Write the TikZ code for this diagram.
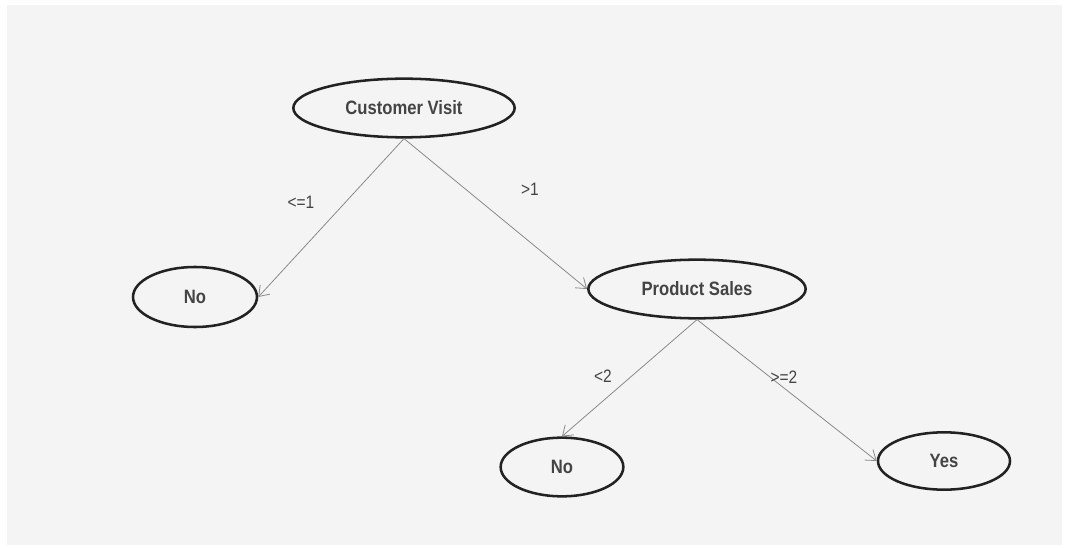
\documentclass[tikz,border=0pt]{standalone}
\usepackage{fontspec}
\setmainfont[FakeStretch=0.86]{Liberation Sans}
\usetikzlibrary{shapes.geometric,arrows.meta}
\definecolor{paper}{HTML}{F4F4F4}
\definecolor{ink}{HTML}{222222}
\definecolor{txt}{HTML}{444444}
\definecolor{edgec}{HTML}{8A8A8A}
\tikzset{
  leaf/.style={ellipse, draw=ink, line width=1.9pt, inner sep=0pt, text=txt,
    font=\fontsize{14.5pt}{16pt}\selectfont\bfseries},
  conn/.style={draw=edgec, line width=0.6pt, -{Straight Barb[length=7pt,width=10pt,line width=0.6pt]}},
  lbl/.style={text=txt, font=\fontsize{13.5pt}{15pt}\selectfont, inner sep=0pt}
}
\begin{document}
\begin{tikzpicture}[x=0.75pt,y=-0.75pt]
\useasboundingbox (0,0) rectangle (1067,549);
\fill[white] (0,0) rectangle (1067,549);
\fill[paper] (7,5) rectangle (1062,545);
\node[leaf, minimum width=166pt, minimum height=44pt] (cv) at (404,108) {Customer Visit};
\node[leaf, minimum width=93pt, minimum height=45pt] (no1) at (195,297) {No};
\node[leaf, minimum width=163pt, minimum height=44pt] (ps) at (697,289) {Product Sales};
\node[leaf, minimum width=92pt, minimum height=44pt] (no2) at (562,467) {No};
\node[leaf, minimum width=99pt, minimum height=43pt] (yes) at (944,461) {Yes};
\draw[conn] (cv.south) -- (no1.east);
\draw[conn] (cv.south) -- (ps.west);
\draw[conn] (ps.south) -- (no2.north);
\draw[conn] (ps.south) -- (yes.west);
\node[lbl] (l1) at (301,202) {<=1};
\node[lbl] (l2) at (530,189) {>1};
\node[lbl] (l3) at (603,376) {<2};
\node[lbl] (l4) at (784,377) {>=2};
\end{tikzpicture}
\end{document}
